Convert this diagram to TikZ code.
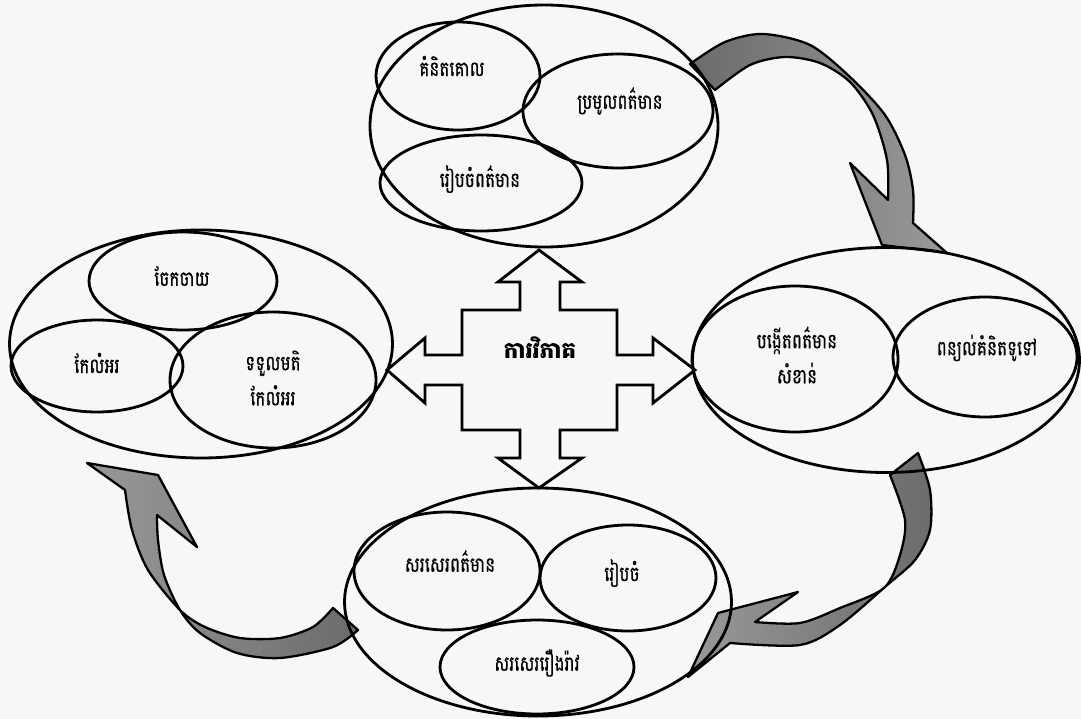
\documentclass[tikz,border=0pt]{standalone}
\usepackage{fontspec}
\newfontfamily\khmer[Script=Khmer, FakeStretch=0.8, FakeBold=0.6]{Battambang}
\newfontfamily\khmerbf[Script=Khmer]{Battambang}
\usetikzlibrary{shapes.geometric}
\tikzset{
  ring/.style={draw, ellipse, line width=1.6pt, inner sep=0pt},
  dims/.style 2 args={minimum width=#1*0.02cm, minimum height=#2*0.02cm},
  word/.style={align=center, inner sep=0pt, font=\khmer\fontsize{12}{20}\selectfont},
  curl/.style={draw, line width=1.3pt, line join=round},
}
\begin{document}
\begin{tikzpicture}[x=0.02cm, y=-0.02cm]
\fill[black!3] (0,0) rectangle (1081,719);
\useasboundingbox (0,0) rectangle (1081,719);

\path[curl, left color=black!58, right color=black!40]
  plot[smooth] coordinates {(690,64) (725,42) (763,34) (810,45) (850,77) (885,115) (905,155) (913,190) (913,223)}
  -- (947,253) -- (882,245) -- (850,163) -- (888,200)
  -- plot[smooth] coordinates {(888,200) (887,160) (873,115) (850,82) (820,63) (785,57) (750,65) (715,90)} -- cycle;
\path[curl, left color=black!40, right color=black!58]
  (890,475) -- plot[smooth] coordinates {(918,453) (930,490) (930,530) (915,560) (886,586) (840,625) (800,645) (730,643)}
  -- (688,677) -- (718,613) -- (798,592) -- (755,622)
  -- plot[smooth] coordinates {(755,622) (800,623) (840,608) (884,588) (900,555) (905,520) (890,475)} -- cycle;
\path[curl, left color=black!40, right color=black!58]
  (333,608) -- plot[smooth] coordinates {(358,630) (333,647) (280,658) (237,653) (200,633) (180,610) (164,575) (158,540) (157,515)}
  -- (197,547) -- (158,475) -- (87,463) -- (125,490)
  -- plot[smooth] coordinates {(125,490) (132,530) (148,570) (180,610) (205,627) (240,638) (280,638) (313,627) (333,608)} -- cycle;

\draw[line width=1.6pt] (539,250) -- (582,282) -- (560,282) -- (560,310) -- (617,310) -- (617,355)
  -- (653,355) -- (653,338) -- (695,370) -- (653,403) -- (653,385) -- (617,385) -- (617,430)
  -- (560,430) -- (560,458) -- (582,458) -- (539,488) -- (498,458) -- (520,458) -- (520,430)
  -- (462,430) -- (462,385) -- (425,385) -- (425,403) -- (387,370) -- (425,338) -- (425,355)
  -- (462,355) -- (462,310) -- (520,310) -- (520,282) -- (498,282) -- cycle;
\node[font=\khmerbf\bfseries\fontsize{13}{15}\selectfont] (vibheak) at (540,348) {ការវិភាគ};

\node[ring, dims={348}{242}] (top) at (544,126) {};
\node[ring, dims={164}{108}] (kumnit) at (458,76) {};
\node[ring, dims={190}{114}] (pramoul) at (618,111) {};
\node[ring, dims={202}{96}] (riepcham) at (481,183) {};
\node[word] (kumnit-t) at (452,66) {គំនិតគោល};
\node[word] (pramoul-t) at (620,101) {ប្រមូលពត៌មាន};
\node[word] (riepcham-t) at (480,179) {រៀបចំពត៌មាន};

\node[ring, dims={383}{228}] (left) at (201,344) {};
\node[ring, dims={188}{98}] (chekchay) at (183,281) {};
\node[ring, dims={172}{92}] (kelam) at (97,366) {};
\node[ring, dims={206}{136}] (tetuol) at (273,380) {};
\node[word] (chekchay-t) at (182,276) {ចែកចាយ};
\node[word] (kelam-t) at (97,363) {កែលំអរ};
\node[word] (tetuol-t) at (273,378) {ទទួលមតិ\\កែលំអរ};

\node[ring, dims={387}{225}] (right) at (886,360) {};
\node[ring, dims={206}{146}] (bangkaot) at (795,359) {};
\node[ring, dims={184}{120}] (ponyol) at (985,357) {};
\node[word] (bangkaot-t) at (797,355) {បង្កើតពត៌មាន\\សំខាន់};
\node[word] (ponyol-t) at (987,348) {ពន្យល់គំនិតទូទៅ};

\node[ring, dims={387}{228}] (bottom) at (538,602) {};
\node[ring, dims={186}{118}] (sarser) at (447,571) {};
\node[ring, dims={176}{106}] (riep) at (628,578) {};
\node[ring, dims={194}{94}] (roeung) at (537,667) {};
\node[word] (sarser-t) at (450,561) {សរសេរពត៌មាន};
\node[word] (riep-t) at (622,573) {រៀបចំ};
\node[word] (roeung-t) at (537,663) {សរសេររឿងរ៉ាវ};
\end{tikzpicture}
\end{document}
